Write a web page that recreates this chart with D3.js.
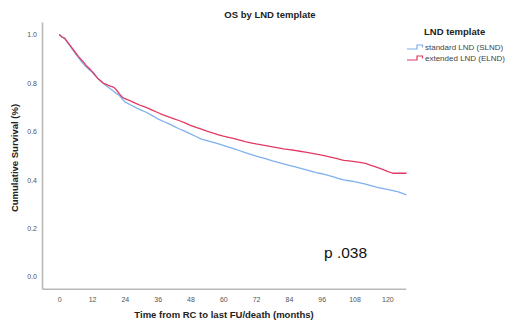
<!DOCTYPE html>
<html>
<head>
<meta charset="utf-8">
<script src="https://cdn.jsdelivr.net/npm/d3@7"></script>
<style>
  body { margin: 0; background: #fff; }
  text { font-family: "Liberation Sans", Arial, sans-serif; }
</style>
</head>
<body>
<div id="chart"></div>
<script>
// survival (months, cumulative survival)
const slndTime = [0, 1, 2, 3, 4, 5, 6, 7, 8, 9, 10, 11, 12, 13, 14, 15, 16, 17, 18, 19, 20, 21, 22, 23, 24, 26, 28, 30, 32, 34, 36, 38, 40, 42, 44, 46, 48, 50, 52, 54, 56, 58, 60, 62, 64, 66, 68, 70, 72, 74, 76, 78, 80, 82, 84, 86, 88, 90, 92, 94, 96, 98, 100, 102, 104, 106, 108, 110, 112, 114, 116, 118, 120, 122, 124, 126, 127];
const slndSurv = [1.0, 0.99, 0.982, 0.968, 0.952, 0.936, 0.92, 0.905, 0.89, 0.877, 0.865, 0.855, 0.845, 0.832, 0.82, 0.81, 0.8, 0.79, 0.782, 0.773, 0.765, 0.756, 0.748, 0.735, 0.722, 0.71, 0.698, 0.688, 0.678, 0.665, 0.652, 0.642, 0.632, 0.621, 0.61, 0.6, 0.59, 0.579, 0.568, 0.562, 0.556, 0.549, 0.542, 0.535, 0.528, 0.52, 0.512, 0.505, 0.498, 0.492, 0.485, 0.478, 0.472, 0.466, 0.46, 0.454, 0.448, 0.442, 0.436, 0.43, 0.425, 0.419, 0.413, 0.406, 0.4, 0.396, 0.392, 0.387, 0.382, 0.376, 0.37, 0.365, 0.36, 0.355, 0.35, 0.342, 0.338];

const elndTime = [0, 1, 2, 3, 4, 5, 6, 7, 8, 9, 10, 11, 12, 13, 14, 15, 16, 17, 18, 19, 20, 21, 22, 23, 24, 26, 28, 30, 32, 34, 36, 38, 40, 42, 44, 46, 48, 50, 52, 54, 56, 58, 60, 62, 64, 66, 68, 70, 72, 74, 76, 78, 80, 82, 84, 86, 88, 90, 92, 94, 96, 98, 100, 102, 104, 106, 108, 110, 112, 114, 116, 118, 120, 122, 127];
const elndSurv = [1.0, 0.99, 0.985, 0.97, 0.955, 0.94, 0.925, 0.91, 0.897, 0.885, 0.87, 0.86, 0.848, 0.835, 0.82, 0.81, 0.8, 0.795, 0.79, 0.786, 0.782, 0.77, 0.755, 0.742, 0.735, 0.726, 0.716, 0.706, 0.698, 0.688, 0.678, 0.668, 0.66, 0.652, 0.644, 0.635, 0.625, 0.617, 0.609, 0.601, 0.594, 0.587, 0.58, 0.575, 0.57, 0.564, 0.558, 0.553, 0.548, 0.544, 0.54, 0.536, 0.532, 0.528, 0.525, 0.522, 0.518, 0.514, 0.51, 0.506, 0.502, 0.497, 0.492, 0.486, 0.48, 0.478, 0.475, 0.472, 0.468, 0.46, 0.452, 0.444, 0.435, 0.427, 0.427];

const xTicks = [0, 12, 24, 36, 48, 60, 72, 84, 96, 108, 120];
const yTicks = [0.0, 0.2, 0.4, 0.6, 0.8, 1.0];
const seriesNames = ['standard LND (SLND)', 'extended LND (ELND)'];
const seriesColors = ['#7fb0ee', '#e23a62'];

const width = 514;
const height = 322;

const svg = d3.select('#chart').append('svg')
  .attr('width', width)
  .attr('height', height);

const x = d3.scaleLinear().domain([-6.3, 126.7]).range([42, 405.7]);
const y = d3.scaleLinear().domain([-0.05, 1.052]).range([288.7, 22]);

// axes: plain gray lines, no tick marks
const xAxis = svg.append('g')
  .attr('transform', 'translate(0,288.7)')
  .call(d3.axisBottom(x).tickValues(xTicks).tickSize(0).tickPadding(8).tickFormat(d3.format('d')));
const yAxis = svg.append('g')
  .attr('transform', 'translate(42,0)')
  .call(d3.axisLeft(y).tickValues(yTicks).tickSize(0).tickPadding(5).tickFormat(d3.format('.1f')));

[xAxis, yAxis].forEach((g) => {
  g.select('.domain').attr('stroke', '#b8b8b8').attr('stroke-width', 1.6);
  g.selectAll('text').attr('fill', '#555').attr('font-size', 7);
});

// survival curves
const line = d3.line()
  .x((d) => x(d[0]))
  .y((d) => y(d[1]));

const series = [
  d3.zip(slndTime, slndSurv),
  d3.zip(elndTime, elndSurv),
];

svg.selectAll('path.km')
  .data(series)
  .enter()
  .append('path')
  .attr('class', 'km')
  .attr('fill', 'none')
  .attr('stroke', (d, i) => seriesColors[i])
  .attr('stroke-width', 1.3)
  .attr('stroke-linejoin', 'round')
  .attr('d', line);

// titles
svg.append('text')
  .attr('x', 270).attr('y', 18)
  .attr('text-anchor', 'middle')
  .attr('font-size', 9.5).attr('font-weight', 'bold')
  .attr('fill', '#222')
  .text('OS by LND template');

svg.append('text')
  .attr('x', 224).attr('y', 318)
  .attr('text-anchor', 'middle')
  .attr('font-size', 9.5).attr('font-weight', 'bold')
  .attr('fill', '#222')
  .text('Time from RC to last FU/death (months)');

svg.append('text')
  .attr('transform', 'translate(18,158) rotate(-90)')
  .attr('text-anchor', 'middle')
  .attr('font-size', 9.5).attr('font-weight', 'bold')
  .attr('fill', '#222')
  .text('Cumulative Survival (%)');

svg.append('text')
  .attr('x', 324).attr('y', 258)
  .attr('font-size', 15.5)
  .attr('fill', '#111')
  .text('p .038');

// legend
const legend = svg.append('g');
legend.append('text')
  .attr('x', 424).attr('y', 35)
  .attr('font-size', 9.5).attr('font-weight', 'bold')
  .attr('fill', '#222')
  .text('LND template');

const items = legend.selectAll('g.item')
  .data(seriesNames)
  .enter()
  .append('g')
  .attr('class', 'item')
  .attr('transform', (d, i) => `translate(407,${47 + i * 11})`);

items.append('path')
  .attr('fill', 'none')
  .attr('stroke', (d, i) => seriesColors[i])
  .attr('stroke-width', 1.2)
  .attr('d', 'M0,2H10V-2H15.5V0.5');

items.append('text')
  .attr('x', 18).attr('y', 3)
  .attr('font-size', 8)
  .attr('fill', '#444')
  .text((d) => d);
</script>
</body>
</html>
